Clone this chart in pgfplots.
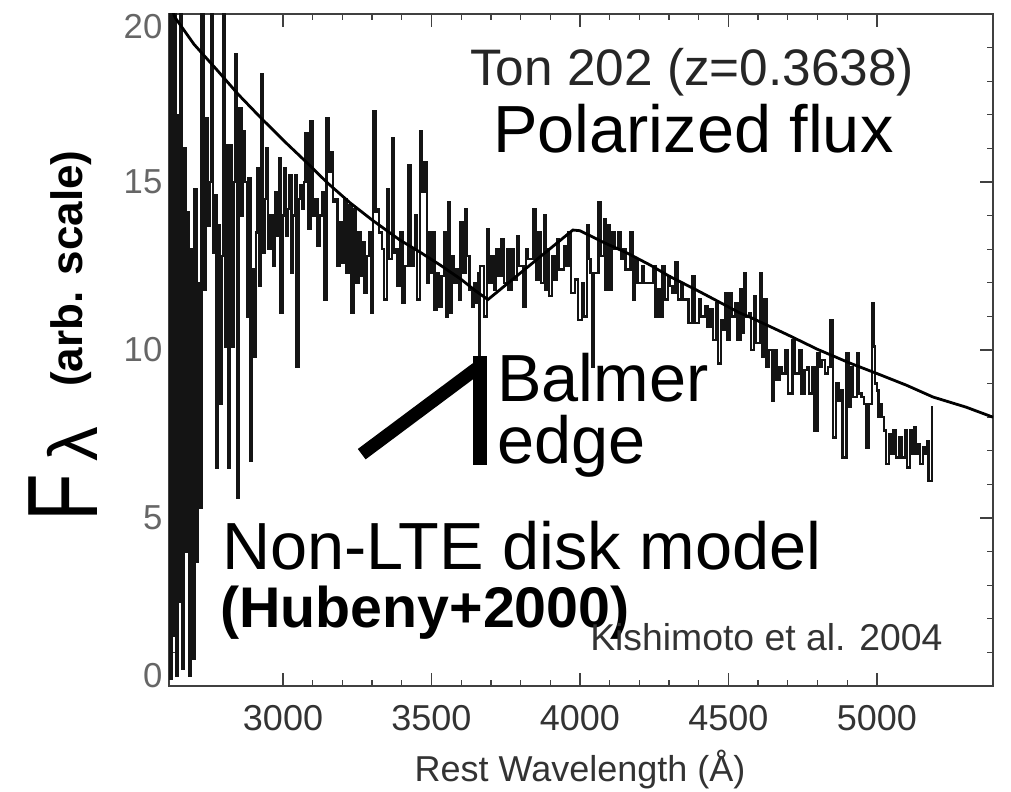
\documentclass[border=0pt]{standalone}
\usepackage{fontspec}
\setmainfont{Liberation Sans}
\usepackage{graphicx}
\usepackage{pgfplots}
\pgfplotsset{compat=1.18}
\begin{document}
\begin{tikzpicture}
\path[use as bounding box] (0,0) rectangle (758.25pt,594pt);
\begin{axis}[
  at={(126.75pt,79.5pt)}, anchor=south west,
  scale only axis, width=618pt, height=504pt,
  xmin=2616, xmax=5391, ymin=0, ymax=20,
  xtick={3000,3500,4000,4500,5000},
  xticklabels={3000,3500,4000,4500,5000},
  minor x tick num=4,
  ytick={0,5,10,15,20},
  yticklabels={\smash{\raisebox{7.5pt}{0}}\vphantom{0},5,10,15,\smash{\raisebox{-9.75pt}{20}}\vphantom{20}},
  minor y tick num=4,
  tick align=inside,
  major tick length=9.75pt, minor tick length=4.5pt,
  axis line style={black!75, line width=1.2pt},
  tick style={black!75, line width=1pt},
  xticklabel style={font=\fontsize{27}{28}\selectfont, text=black!80, yshift=-11.25pt},
  yticklabel style={font=\fontsize{26}{27}\selectfont, text=black!60, xshift=-1.5pt},
]
\addplot[const plot, black!92, line width=1.8pt] coordinates {
(2616,20.5) (2620,0.2) (2625,20.5) (2630,1.5) (2635,20.5) (2640,0.3) (2645,17.0) (2650,2.5)
(2655,20.5) (2660,0.5) (2666,16.0) (2672,4.0) (2678,14.1) (2684,0.3) (2690,13.0) (2696,0.8)
(2702,14.8) (2708,3.7) (2714,12.0) (2720,5.3) (2726,20.5) (2734,11.8) (2740,16.9) (2746,13.7)
(2752,15.0) (2758,20.5) (2764,12.9) (2770,14.6) (2776,6.5) (2782,13.7) (2788,8.4) (2794,12.8)
(2798,20.5) (2804,10.1) (2810,16.1) (2816,6.5) (2822,16.1) (2828,10.1) (2834,15.0) (2840,18.8)
(2846,5.6) (2852,17.2) (2860,14.0) (2866,16.5) (2872,15.0) (2878,11.0) (2884,15.1) (2890,6.7)
(2896,12.4) (2902,9.8) (2908,13.5) (2914,15.4) (2920,11.9) (2926,18.2) (2932,12.9) (2938,14.5)
(2944,16.0) (2950,13.0) (2958,14.0) (2966,12.5) (2972,14.7) (2980,13.4) (2986,15.7) (2992,11.1)
(2998,14.0) (3004,15.4) (3010,13.4) (3016,14.2) (3022,15.2) (3028,12.3) (3034,14.0) (3040,15.2)
(3046,9.5) (3052,14.5) (3058,14.9) (3064,14.2) (3070,15.0) (3076,16.45) (3084,13.6) (3092,16.8)
(3100,14.0) (3108,14.5) (3116,13.1) (3124,14.0) (3132,14.7) (3138,11.5) (3146,16.9) (3154,15.3)
(3160,15.9) (3168,14.4) (3176,14.5) (3184,12.5) (3192,13.8) (3200,12.6) (3206,14.5) (3214,12.3)
(3222,14.3) (3230,11.1) (3238,14.2) (3244,12.0) (3254,13.5) (3262,12.2) (3268,13.2) (3274,11.7)
(3282,12.8) (3290,13.5) (3296,11.1) (3304,17.1) (3312,14.1) (3318,14.2) (3324,13.5) (3334,13.0)
(3340,11.5) (3350,14.8) (3356,12.7) (3366,16.3) (3372,12.9) (3380,13.0) (3386,11.9) (3396,13.5)
(3402,11.4) (3410,12.5) (3422,15.5) (3430,12.5) (3440,13.0) (3446,14.0) (3452,11.5) (3462,16.5)
(3468,14.7) (3476,15.6) (3484,12.0) (3492,13.5) (3498,12.3) (3504,13.5) (3510,11.2) (3518,12.3)
(3526,11.3) (3534,12.2) (3542,13.5) (3548,11.0) (3556,14.4) (3562,11.1) (3570,12.8) (3576,12.0)
(3584,12.4) (3592,11.5) (3598,13.8) (3606,12.3) (3614,14.2) (3620,12.8) (3628,11.8) (3636,11.3)
(3644,12.0) (3650,11.4) (3656,12.3) (3660,9.3) (3664,12.5)
(3668,12.5) (3676,11.0) (3686,13.6) (3694,12.0) (3702,12.8) (3710,11.8) (3718,13.0) (3726,12.2)
(3736,13.3) (3744,12.0) (3754,13.0) (3760,11.8) (3770,13.0) (3778,12.1) (3788,13.4) (3794,12.5)
(3804,12.5) (3810,11.3) (3818,13.0) (3826,12.7) (3844,14.2) (3852,12.1) (3860,13.5) (3868,12.0)
(3878,14.0) (3884,11.8) (3890,13.0) (3896,11.6) (3906,12.8) (3914,12.1) (3922,13.3) (3930,12.4)
(3946,13.1) (3952,12.5) (3962,13.5) (3970,11.7) (3984,12.1) (3994,10.9) (4006,12.0) (4014,11.0)
(4024,13.7) (4030,12.7) (4036,12.3) (4040,9.5) (4046,12.3) (4062,14.4) (4070,12.8) (4080,13.9)
(4086,11.8) (4092,13.7) (4100,11.8) (4108,13.5) (4116,13.0) (4130,13.5) (4138,12.7) (4146,13.0)
(4154,12.4) (4170,13.5) (4178,11.5) (4186,12.7) (4194,12.0) (4208,12.5) (4216,12.0) (4230,12.0)
(4246,12.5) (4254,11.0)
(4262,11.8) (4270,11.0) (4278,12.5) (4286,11.5) (4296,12.2) (4304,11.9) (4312,11.7) (4322,12.6)
(4330,11.5) (4340,12.0) (4348,11.5) (4358,11.5) (4366,10.8) (4378,12.2) (4386,10.8) (4400,11.5)
(4408,11.0) (4422,11.3) (4430,10.7) (4440,11.2) (4448,10.3) (4458,11.4) (4464,9.6) (4474,10.9)
(4480,10.6) (4490,11.7) (4496,10.3) (4504,11.7) (4510,11.0) (4524,11.4) (4530,10.3) (4540,11.8)
(4546,10.5) (4552,12.3) (4558,11.0) (4570,11.1) (4576,10.0) (4586,11.6) (4592,10.2) (4608,12.3)
(4614,9.8) (4622,11.5) (4628,9.5) (4636,10.0) (4646,8.5) (4654,10.0) (4662,9.1) (4672,9.5)
(4680,9.3) (4692,10.0) (4700,8.7) (4716,10.3) (4724,9.3) (4738,10.0) (4746,8.7) (4756,9.4)
(4766,9.5) (4772,8.7) (4782,9.5) (4790,7.6) (4800,9.9) (4808,9.5) (4816,9.7) (4826,9.3)
(4836,9.5) (4844,10.9) (4852,7.4) (4862,9.0) (4870,8.5) (4878,8.8) (4884,6.8) (4898,9.9)
(4906,8.3) (4912,9.5) (4918,8.6) (4932,9.9) (4940,8.7) (4948,8.6) (4956,8.4) (4964,7.1)
(4972,8.4) (4984,11.4) (4990,10.1) (4994,9.0) (5000,8.8) (5006,8.0) (5012,8.4) (5018,8.0)
(5024,7.6) (5030,6.6) (5040,7.5) (5046,6.9) (5056,7.6) (5064,6.8) (5076,7.4) (5084,6.8)
(5096,7.6) (5102,6.5) (5112,7.6) (5118,6.9) (5124,7.7) (5130,6.9) (5140,7.2) (5146,6.6)
(5156,7.1) (5162,6.9) (5168,7.3) (5174,6.1) (5186,8.3) (5190,8.3)
};
\addplot[black, line width=2.1pt] coordinates {
(2616,20.4) (2636,19.9) (2700,19.1) (2778,18.33) (2850,17.6) (2923,16.93) (3000,16.25)
(3081,15.57) (3150,14.97) (3226,14.38) (3300,13.87) (3394,13.27) (3460,12.92) (3529,12.53)
(3600,12.1) (3650,11.75) (3690,11.5) (3976,13.57) (4000,13.55) (4080,13.2) (4158,12.89)
(4236,12.53) (4300,12.2) (4400,11.75) (4539,11.1) (4572,10.98) (4700,10.45) (4800,10.02)
(4909,9.61) (5000,9.3) (5100,8.95) (5189,8.6) (5300,8.3) (5391,8.0)
};
\draw[black, line width=9.75pt] (axis cs:3265,6.9) -- (axis cs:3652,9.45);
\draw[black, line width=10.5pt, line cap=butt] (axis cs:3663,9.82) -- (axis cs:3663,6.58);
\end{axis}
\node[anchor=base west, inner sep=0, font=\fontsize{38.5}{40}\selectfont, text=black!85] at (352.5pt,529.5pt) {Ton 202 (z=0.3638)};
\node[anchor=base west, inner sep=0, font=\fontsize{50}{52}\selectfont] at (369.75pt,479.25pt) {Polarized flux};
\node[anchor=base west, inner sep=0, font=\fontsize{50}{52}\selectfont] at (372.75pt,292.5pt) {Balmer};
\node[anchor=base west, inner sep=0, font=\fontsize{50}{52}\selectfont] at (372.75pt,246pt) {edge};
\node[anchor=base west, inner sep=0, font=\fontsize{50}{52}\selectfont] at (166.5pt,166.5pt) {Non-LTE disk model};
\node[anchor=base west, inner sep=0, font=\fontsize{43}{45}\selectfont\bfseries] at (165pt,123pt) {(Hubeny+2000)};
\node[anchor=base west, inner sep=0, font=\fontsize{28}{30}\selectfont, text=black!80] at (442.5pt,105.75pt) {Kishimoto et al. 2004};
\node[anchor=base, inner sep=0, font=\fontsize{27}{28}\selectfont, text=black!80] at (435pt,7.5pt) {Rest Wavelength (Å)};
\node[rotate=90, anchor=base west, inner sep=0, font=\fontsize{75}{78}\selectfont] at (72.75pt,202.5pt) {\scalebox{0.78}[1]{F}};
\node[rotate=90, anchor=base west, inner sep=0, font=\fontsize{52}{54}\selectfont] at (72.75pt,247.5pt) {λ};
\node[rotate=90, anchor=base west, inner sep=0, font=\fontsize{33}{35}\selectfont\bfseries] at (61.5pt,303.75pt) {(arb. scale)};
\end{tikzpicture}
\end{document}
